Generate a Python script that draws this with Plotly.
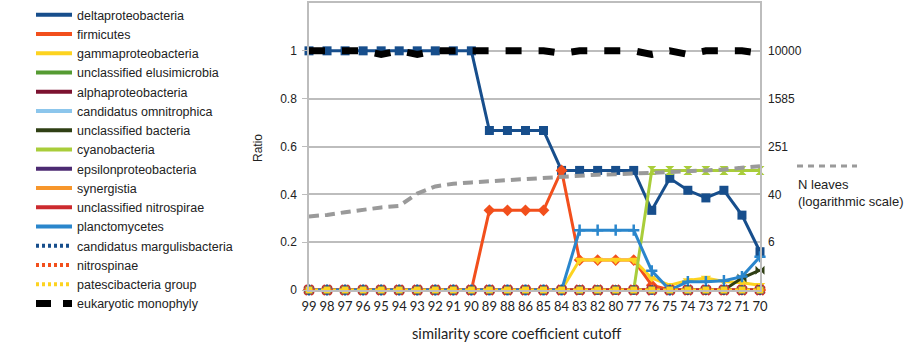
import plotly.graph_objects as go
from plotly.subplots import make_subplots

# similarity score coefficient cutoffs (x categories)
cutoffs = ["99", "98", "97", "96", "95", "94", "93", "92", "91", "90", "89", "88", "86",
           "85", "84", "83", "82", "80", "77", "76", "75", "74", "73", "72", "71", "70"]

# ratio of each taxon per cutoff
deltaproteobacteria = [1, 1, 1, 1, 1, 1, 1, 1, 1, 1, 0.667, 0.667, 0.667, 0.667,
                       0.5, 0.5, 0.5, 0.5, 0.5, 0.333, 0.467, 0.417, 0.385, 0.417, 0.313, 0.16]
firmicutes = [0, 0, 0, 0, 0, 0, 0, 0, 0, 0, 0.333, 0.333, 0.333, 0.333,
              0.5, 0.125, 0.125, 0.125, 0.125, 0.02, 0, 0, 0, 0, 0, 0]
gammaproteobacteria = [0, 0, 0, 0, 0, 0, 0, 0, 0, 0, 0, 0, 0, 0,
                       0, 0.125, 0.125, 0.125, 0.125, 0.05, 0.02, 0.04, 0.05, 0.036, 0.03, 0.02]
unclassified_elusimicrobia = [0] * 26
alphaproteobacteria = [0] * 26
candidatus_omnitrophica = [0] * 26
unclassified_bacteria = [0, 0, 0, 0, 0, 0, 0, 0, 0, 0, 0, 0, 0, 0,
                         0, 0, 0, 0, 0, 0, 0, 0, 0, 0, 0.05, 0.083]
cyanobacteria = [0, 0, 0, 0, 0, 0, 0, 0, 0, 0, 0, 0, 0, 0,
                 0, 0, 0, 0, 0, 0.5, 0.5, 0.5, 0.5, 0.5, 0.5, 0.5]
epsilonproteobacteria = [0] * 26
synergistia = [0] * 26
unclassified_nitrospirae = [0] * 26
planctomycetes = [0, 0, 0, 0, 0, 0, 0, 0, 0, 0, 0, 0, 0, 0,
                  0, 0.25, 0.25, 0.25, 0.25, 0.08, 0, 0.035, 0.035, 0.039, 0.056, 0.139]
candidatus_margulisbacteria = [0] * 26
nitrospinae = [0] * 26
patescibacteria_group = [0] * 26
eukaryotic_monophyly = [1, 1, 1, 1, 0.985, 1, 0.985, 1, 1, 1, 1, 1, 0.995, 1,
                        0.99, 1, 1, 1, 1, 0.985, 1, 0.985, 1, 1, 1, 0.99]

# number of leaves per cutoff (secondary, logarithmic axis)
n_leaves = [17, 18, 20, 22, 24, 25.5, 41, 54, 60, 63, 66, 68, 71, 74,
            79, 83, 85, 86, 88, 90, 93, 95, 100, 104, 111, 118]

# left and right tick labels
ratio_ticks = [0, 0.2, 0.4, 0.6, 0.8, 1]
ratio_labels = ["0", "0.2", "0.4", "0.6", "0.8", "1"]
leaves_ticks = [10 ** 0.8, 10 ** 1.6, 10 ** 2.4, 10 ** 3.2, 10 ** 4]
leaves_labels = ["6", "40", "251", "1585", "10000"]

series = [
    ("deltaproteobacteria", deltaproteobacteria, "#174e8c", "solid", "square", 9),
    ("firmicutes", firmicutes, "#f24f1c", "solid", "diamond", 9),
    ("gammaproteobacteria", gammaproteobacteria, "#fdd320", "solid", "triangle-down", 9),
    ("unclassified elusimicrobia", unclassified_elusimicrobia, "#559b32", "solid", "triangle-up", 9),
    ("alphaproteobacteria", alphaproteobacteria, "#7c1230", "solid", "triangle-right", 9),
    ("candidatus omnitrophica", candidatus_omnitrophica, "#8cc6ec", "solid", "triangle-left", 9),
    ("unclassified bacteria", unclassified_bacteria, "#2f3f14", "solid", "bowtie", 9),
    ("cyanobacteria", cyanobacteria, "#a9cd3a", "solid", "hourglass", 9),
    ("epsilonproteobacteria", epsilonproteobacteria, "#4c2a72", "solid", "circle", 9),
    ("synergistia", synergistia, "#f7962b", "solid", "star", 9),
    ("unclassified nitrospirae", unclassified_nitrospirae, "#cc2a2e", "solid", "x", 10),
    ("planctomycetes", planctomycetes, "#2a86cc", "solid", "cross-thin", 8),
    ("candidatus margulisbacteria", candidatus_margulisbacteria, "#174e8c", "3px,3px", "asterisk", 8),
    ("nitrospinae", nitrospinae, "#f24f1c", "3px,3px", "line-ew", 8),
    ("patescibacteria group", patescibacteria_group, "#fdd320", "3px,3px", "square", 7),
]
open_symbols = ("cross-thin", "asterisk", "line-ew", "line-ns")

fig = make_subplots(specs=[[{"secondary_y": True}]])

for name, vals, color, dash, symbol, size in series:
    is_open = symbol in open_symbols
    fig.add_trace(go.Scatter(
        x=cutoffs, y=vals, mode="lines+markers", name=name, showlegend=False,
        line=dict(color=color, width=3, dash=dash),
        marker=dict(symbol=symbol, size=size, color=color,
                    line=dict(color=color, width=2.5 if is_open else 0)),
        cliponaxis=False,
    ), secondary_y=False)

fig.add_trace(go.Scatter(
    x=cutoffs, y=eukaryotic_monophyly, mode="lines", name="eukaryotic monophyly",
    showlegend=False, line=dict(color="#000000", width=7, dash="16px,17px"),
    cliponaxis=False,
), secondary_y=False)

fig.add_trace(go.Scatter(
    x=cutoffs, y=n_leaves, mode="lines", name="N leaves", showlegend=False,
    line=dict(color="#9a9a9a", width=4, dash="10px,6px"),
    cliponaxis=False,
), secondary_y=True)

# legend entries drawn as plain line keys
for name, vals, color, dash, symbol, size in series:
    fig.add_trace(go.Scatter(
        x=[None], y=[None], mode="lines", name=name,
        line=dict(color=color, width=4, dash=dash),
    ), secondary_y=False)
fig.add_trace(go.Scatter(
    x=[None], y=[None], mode="lines", name="eukaryotic monophyly",
    line=dict(color="#000000", width=7, dash="15px,12px"),
), secondary_y=False)

grid = "#bdbdbd"
fig.update_xaxes(
    type="category", range=[0, 25], domain=[0, 1], showgrid=False,
    showline=True, linecolor=grid, linewidth=1.5, mirror=True,
    ticks="", tickangle=0, tickfont=dict(family="Lato", size=13, color="#222222"),
    ticklabelstandoff=4,
)
fig.update_yaxes(
    range=[0, 1.2], tickvals=ratio_ticks, ticktext=ratio_labels,
    showgrid=True, gridcolor=grid, gridwidth=1.5, zeroline=False,
    showline=True, linecolor=grid, linewidth=1.5, mirror=True,
    ticks="outside", ticklen=5, tickcolor=grid,
    tickfont=dict(family="Liberation Sans", size=12, color="#222222"),
    ticklabelstandoff=3,
    secondary_y=False,
)
fig.update_yaxes(
    type="log", range=[0, 4.8], tickvals=leaves_ticks, ticktext=leaves_labels,
    showgrid=False, zeroline=False, showline=False, ticks="",
    tickfont=dict(family="Liberation Sans", size=12, color="#222222"),
    ticklabelstandoff=7,
    secondary_y=True,
)

W, H = 905, 347
L, R, T, B = 309, 145, 3, 57
pw, ph = W - L - R, H - T - B


def px(xp):
    return (xp - L) / pw


def py(yp):
    return (H - B - yp) / ph


fig.add_annotation(text="Ratio", textangle=-90, xref="paper", yref="paper",
                   x=px(258), y=py(148), showarrow=False, xanchor="center", yanchor="middle",
                   font=dict(family="Liberation Sans", size=12, color="#222222"))
fig.add_annotation(text="similarity score coefficient cutoff", xref="paper", yref="paper",
                   x=px(516), y=py(333), showarrow=False, xanchor="center", yanchor="middle",
                   font=dict(family="Lato", size=14.7, color="#222222"))
fig.add_annotation(text="N leaves<br>(logarithmic scale)", xref="paper", yref="paper",
                   x=px(796), y=py(193), showarrow=False, xanchor="left", yanchor="middle",
                   align="left",
                   font=dict(family="Liberation Sans", size=13, color="#222222"))
# key for the N leaves line
fig.add_shape(type="line", xref="paper", yref="paper",
              x0=px(797), x1=px(857), y0=py(166), y1=py(166),
              line=dict(color="#9a9a9a", width=3, dash="6px,5px"))

fig.update_layout(
    width=W, height=H,
    margin=dict(l=L, r=R, t=T, b=B, autoexpand=False),
    paper_bgcolor="white", plot_bgcolor="white",
    legend=dict(
        xref="container", yref="container", x=31 / W, y=1.0 + 3 / H,
        xanchor="left", yanchor="top", maxheight=H,
        font=dict(family="Liberation Sans", size=12.5, color="#222222"),
        bgcolor="rgba(0,0,0,0)", itemwidth=36, traceorder="normal",
    ),
    font=dict(family="Liberation Sans"),
)

fig.write_html("out.html")
